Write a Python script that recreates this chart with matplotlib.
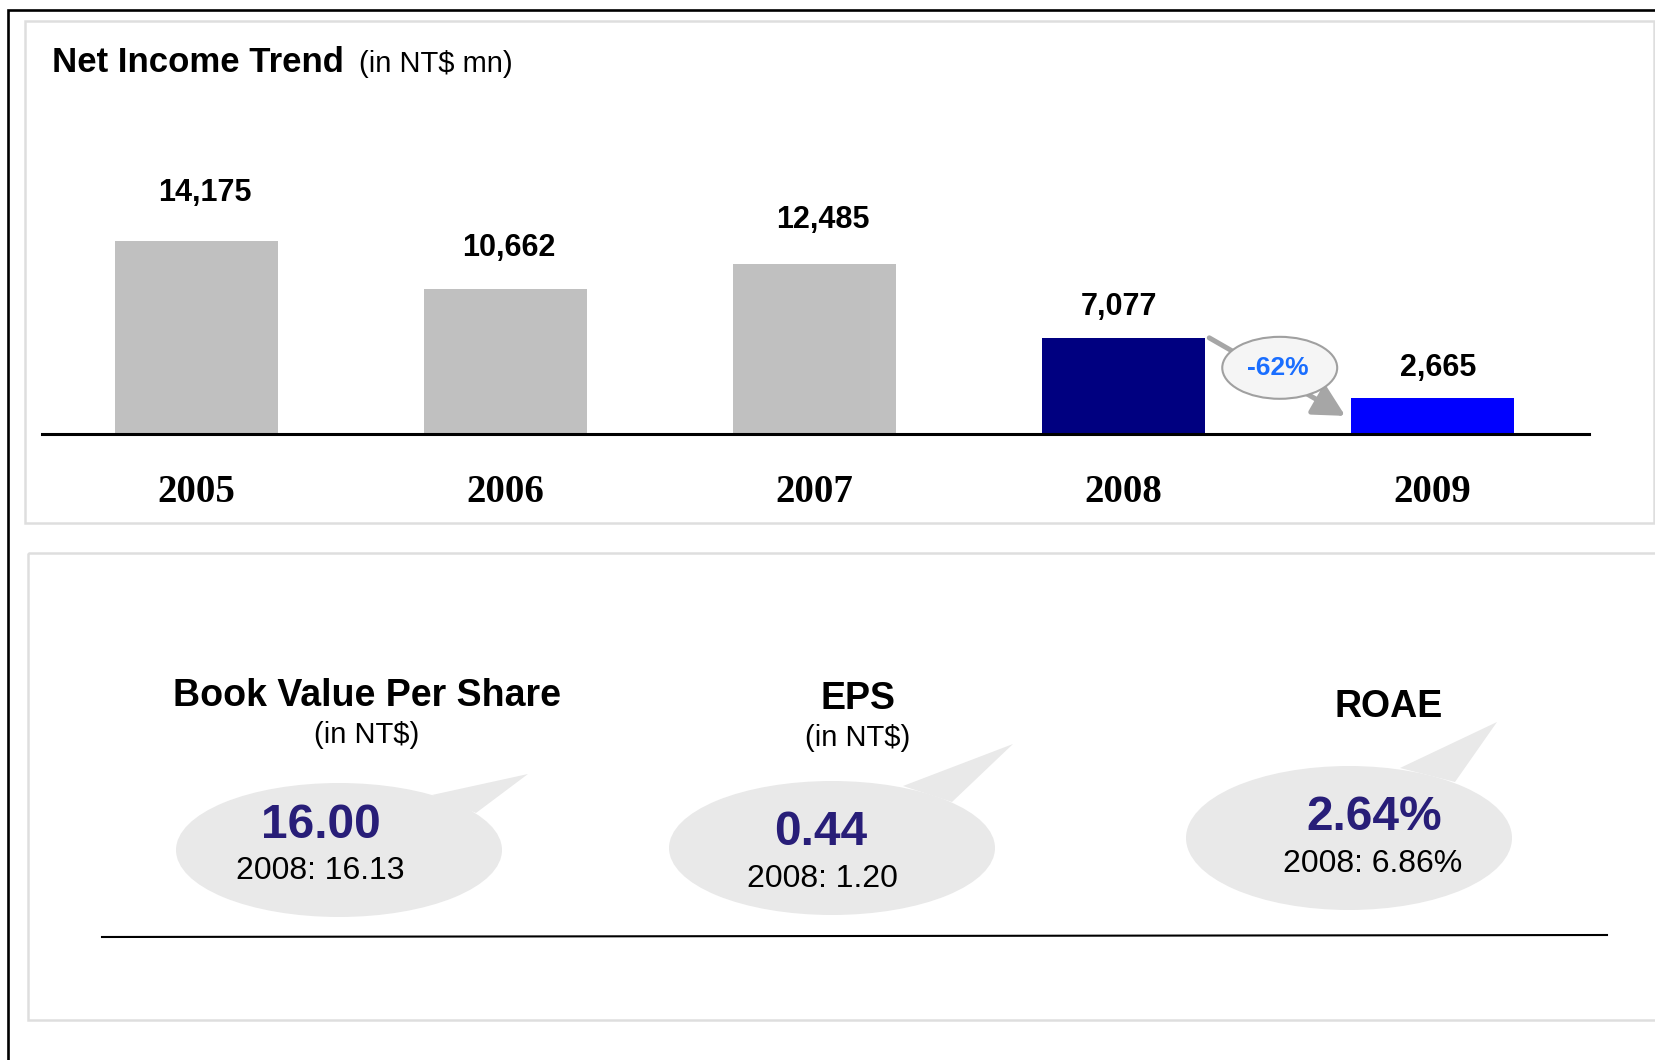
import matplotlib
matplotlib.use('Agg')
import matplotlib.pyplot as plt
from matplotlib.patches import Ellipse, Polygon, Rectangle

plt.rcParams['font.family'] = ['Liberation Sans', 'DejaVu Sans']

# Data #
years = ['2005', '2006', '2007', '2008', '2009']
net_income = [14175, 10662, 12485, 7077, 2665]
bar_colors = ['#c0c0c0', '#c0c0c0', '#c0c0c0', '#000080', '#0000ff']
change_label = '-62%'

metric_names = ['Book Value Per Share', 'EPS', 'ROAE']
metric_units = ['(in NT$)', '(in NT$)', '']
metric_2009 = ['16.00', '0.44', '2.64%']
metric_2008 = ['2008: 16.13', '2008: 1.20', '2008: 6.86%']

# Layout (pixels of the 1656x1060 canvas) #
W, H = 1656, 1060
label_lift = [40, 33, 36, 23, 22]          # px from bar top to label baseline
label_dx = [8, 3, 8, -4, 6]                # px sideways nudge of value labels
name_x = [367, 858, 1389]
name_base = [706, 709, 717]
unit_base = [743, 746, 0]
bubble_c = [(339, 850), (832, 848), (1349, 838)]
bubble_wh = [(326, 134), (326, 134), (326, 144)]
bubble_tail = [[(432, 795), (528, 774), (476, 813)],
               [(903, 786), (1013, 744), (952, 802)],
               [(1400, 768), (1497, 722), (1455, 782)]]
val_x = [321, 821, 1374]
val_base = [838, 845, 830]
prev_x = [320, 822, 1373]
prev_base = [879, 887, 872]

fig = plt.figure(figsize=(W / 100, H / 100), dpi=100)

# background canvas in pixel coords
bg = fig.add_axes([0, 0, 1, 1])
bg.set_xlim(0, W)
bg.set_ylim(H, 0)
bg.axis('off')

# outer frame + panels
bg.plot([8, 8, W + 10], [H + 10, 10, 10], color='black', lw=1.9,
        solid_joinstyle='miter')
bg.add_patch(Rectangle((25, 21), 1629, 502, fill=False, ec='#dedede', lw=1.8))
bg.add_patch(Rectangle((28, 553), 1700, 467, fill=False, ec='#dedede', lw=1.8))

# title
bg.text(52, 72, 'Net Income Trend', fontsize=25, fontweight='bold', va='baseline')
bg.text(359, 72, '(in NT$ mn)', fontsize=21, va='baseline')

# bar chart
base_px = 434
ax = fig.add_axes([42 / W, (H - base_px) / H, 1547 / W, 334.25 / H])
ax.patch.set_visible(False)
x = range(len(years))
ax.bar(x, net_income, width=0.527, color=bar_colors, zorder=2)
ax.set_xlim(-0.5, 4.507)
ax.set_ylim(0, 24600)
for s in ['top', 'left', 'right']:
    ax.spines[s].set_visible(False)
ax.spines['bottom'].set_linewidth(2.2)
ax.spines['bottom'].set_zorder(3)
ax.set_yticks([])
ax.set_xticks(list(x), years, fontfamily='Liberation Serif', fontweight='bold',
              fontsize=28)
ax.tick_params(axis='x', length=0, pad=28.5)

for i, v in enumerate(net_income):
    ax.annotate(f'{v:,}', (i, v), xytext=(label_dx[i] * 0.72, label_lift[i] * 0.72),
                textcoords='offset points', ha='center', va='baseline',
                fontsize=22, fontweight='bold')

# change arrow 2008 -> 2009
ax.annotate('', xy=(4 - 0.282, net_income[4] * 0.5), xytext=(3.278, net_income[3]),
            arrowprops=dict(arrowstyle='-|>,head_length=0.95,head_width=0.5',
                            mutation_scale=20, color='#a6a6a6', lw=3.6,
                            shrinkA=0, shrinkB=0), zorder=3)
mid_y = (net_income[3] + net_income[4]) / 2
ax.add_patch(Ellipse((3.506, mid_y), 0.372, 4560, fc='#f5f5f5', ec='#a0a0a0',
                     lw=1.5, zorder=4))
ax.text(3.5, mid_y, change_label, ha='center', va='center', color='#1a6eff',
        fontsize=19, fontweight='bold', zorder=5)

# key metrics
for k in range(3):
    bg.text(name_x[k], name_base[k], metric_names[k], ha='center', va='baseline',
            fontsize=27, fontweight='bold')
    if metric_units[k]:
        bg.text(name_x[k], unit_base[k], metric_units[k], ha='center',
                va='baseline', fontsize=21)
    cx, cy = bubble_c[k]
    bw, bh = bubble_wh[k]
    bg.add_patch(Ellipse((cx, cy), bw, bh, fc='#e9e9e9', ec='none'))
    bg.add_patch(Polygon(bubble_tail[k], closed=True, fc='#e9e9e9', ec='none'))
    bg.text(val_x[k], val_base[k], metric_2009[k], ha='center', va='baseline',
            fontsize=34.5, fontweight='bold', color='#281e78')
    bg.text(prev_x[k], prev_base[k], metric_2008[k], ha='center', va='baseline',
            fontsize=23)

bg.plot([102, 1607], [937, 935], color='black', lw=1.5)

fig.savefig('out.png', dpi=100)
